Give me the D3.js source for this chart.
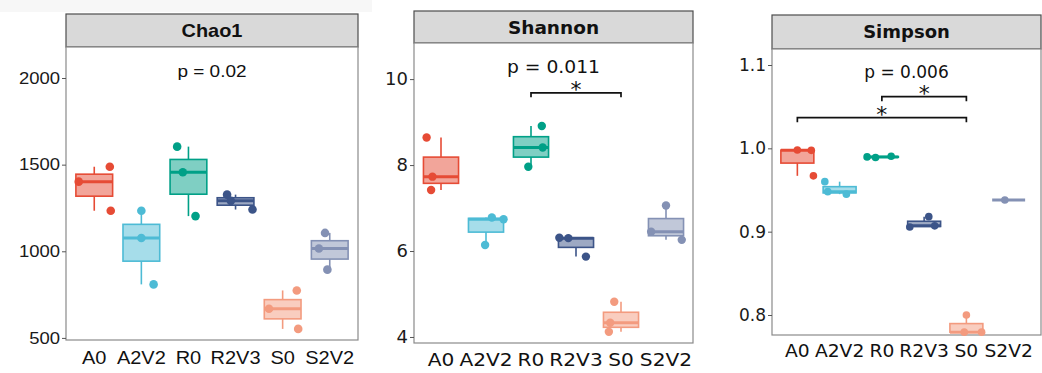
<!DOCTYPE html>
<html>
<head>
<meta charset="utf-8">
<script src="https://cdn.jsdelivr.net/npm/d3@7"></script>
<style>
  body { margin: 0; background: #fff; }
  svg { display: block; }
  .stretch { transform-box: fill-box; }
</style>
</head>
<body>
<script>
const groups = ["A0", "A2V2", "R0", "R2V3", "S0", "S2V2"];
const groupColors = ["#E64B35", "#4DBBD5", "#00A087", "#3C5488", "#F39B7F", "#8491B4"];

// three samples per group, with the jitter (in category steps) seen in the picture
const chao1Values = [
  [1402, 1488, 1234],
  [1234, 1077, 809],
  [1604, 1456, 1203],
  [1327, 1291, 1241],
  [774, 668, 552],
  [1106, 1016, 894],
];
const chao1Jitter = [
  [-0.33, 0.33, 0.35],
  [0.0, 0.0, 0.26],
  [-0.24, -0.12, 0.15],
  [-0.18, -0.1, 0.36],
  [0.3, -0.29, 0.33],
  [-0.1, -0.23, -0.05],
];
const chao1Ticks = [500, 1000, 1500, 2000];

const shannonValues = [
  [8.64, 7.73, 7.42],
  [6.78, 6.74, 6.14],
  [8.91, 8.41, 7.96],
  [6.31, 6.3, 5.87],
  [4.82, 4.33, 4.12],
  [7.06, 6.45, 6.26],
];
const shannonJitter = [
  [-0.32, -0.19, -0.22],
  [0.13, 0.39, -0.02],
  [0.24, 0.26, -0.06],
  [-0.37, -0.17, 0.22],
  [-0.15, -0.24, -0.27],
  [0.0, -0.33, 0.35],
];
const shannonTicks = [4, 6, 8, 10];

const simpsonValues = [
  [0.998, 0.9976, 0.967],
  [0.96, 0.948, 0.945],
  [0.9897, 0.989, 0.9905],
  [0.9056, 0.918, 0.907],
  [0.8, 0.7794, 0.7794],
  [0.938],
];
const simpsonJitter = [
  [0.0, 0.33, 0.38],
  [-0.35, -0.28, 0.16],
  [-0.35, -0.15, 0.22],
  [-0.34, 0.11, 0.25],
  [0.0, -0.05, 0.36],
  [-0.09],
];
const simpsonTicks = [0.8, 0.9, 1.0, 1.1];

const pLabels = ["p = 0.02", "p = 0.011", "p = 0.006"];
const pLabelY = [2006, 10.14, 1.084];

const shannonBrackets = [{ from: "R0", to: "S0", y: 9.68, label: "*" }];
const simpsonBrackets = [
  { from: "R0", to: "S0", y: 1.062, label: "*" },
  { from: "A0", to: "S0", y: 1.0368, label: "*" },
];

const width = 1042;
const height = 373;

const svg = d3.select("body").append("svg")
  .attr("width", width)
  .attr("height", height);

// faint strip at the top-left of the source image
svg.append("rect")
  .attr("x", 0).attr("y", 0).attr("width", 372).attr("height", 12)
  .attr("fill", "#f7f7f7");

const panels = [
  {
    title: "Chao1", values: chao1Values, jitter: chao1Jitter, ticks: chao1Ticks,
    fmt: d3.format("d"), domain: [488, 2179], p: pLabels[0], pY: pLabelY[0], brackets: [],
    left: 66, right: 358, xEnd: 358, headerTop: 14, top: 47, bottom: 340,
    font: "'Liberation Sans', Arial, sans-serif",
    titleSize: 19, tickSize: 16.5, labelSize: 18.5, pSize: 16.5,
    sxTitle: 1.05, sxTick: 1.12, sxLabel: 1.08, sxP: 1.15,
    pointR: 4.3,
  },
  {
    title: "Shannon", values: shannonValues, jitter: shannonJitter, ticks: shannonTicks,
    fmt: d3.format("d"), domain: [3.86, 10.84], p: pLabels[1], pY: pLabelY[1], brackets: shannonBrackets,
    left: 414, right: 693, xEnd: 693, headerTop: 11, top: 43, bottom: 343,
    font: "'DejaVu Sans', sans-serif",
    titleSize: 18.5, tickSize: 18, labelSize: 18, pSize: 18,
    sxTitle: 1.0, sxTick: 1.0, sxLabel: 1.12, sxP: 1.04,
    pointR: 4.2,
  },
  {
    title: "Simpson", values: simpsonValues, jitter: simpsonJitter, ticks: simpsonTicks,
    fmt: d3.format(".1f"), domain: [0.776, 1.1192], p: pLabels[2], pY: pLabelY[2], brackets: simpsonBrackets,
    left: 772, right: 1041, xEnd: 1034, headerTop: 15, top: 49, bottom: 335,
    font: "'DejaVu Sans', sans-serif",
    titleSize: 18, tickSize: 17, labelSize: 17, pSize: 17,
    sxTitle: 1.0, sxTick: 1.0, sxLabel: 1.1, sxP: 1.0,
    pointR: 3.8,
  },
];

function stretch(sel, sx, origin) {
  sel.classed("stretch", true)
    .style("transform-origin", origin)
    .style("transform", `scaleX(${sx})`);
}

function drawPanel(p) {
  const x = d3.scalePoint().domain(groups).range([p.left, p.xEnd]).padding(0.6);
  const y = d3.scaleLinear().domain(p.domain).range([p.bottom, p.top]);
  const step = x.step();
  const boxW = step * 0.78;

  const g = svg.append("g").attr("font-family", p.font);

  // strip header
  g.append("rect")
    .attr("x", p.left).attr("y", p.headerTop)
    .attr("width", p.right - p.left).attr("height", p.top - p.headerTop)
    .attr("fill", "#d9d9d9").attr("stroke", "#4d4d4d").attr("stroke-width", 1.2);
  g.append("text")
    .attr("x", (p.left + p.right) / 2).attr("y", (p.headerTop + p.top) / 2)
    .attr("dy", "0.36em").attr("text-anchor", "middle")
    .attr("font-size", p.titleSize).attr("font-weight", "bold").attr("fill", "#111")
    .text(p.title)
    .call(stretch, p.sxTitle, "center");

  // panel border
  g.append("rect")
    .attr("x", p.left).attr("y", p.top)
    .attr("width", p.right - p.left).attr("height", p.bottom - p.top)
    .attr("fill", "#fff").attr("stroke", "#8a8a8a").attr("stroke-width", 1.2);

  // y axis
  const axis = d3.axisLeft(y).tickValues(p.ticks).tickFormat(p.fmt).tickSize(4).tickPadding(2);
  const ag = g.append("g").attr("transform", `translate(${p.left},0)`).call(axis);
  ag.select(".domain").remove();
  ag.selectAll(".tick line").attr("stroke", "#555");
  ag.selectAll(".tick text")
    .attr("font-size", p.tickSize).attr("font-family", p.font).attr("fill", "#1a1a1a")
    .call(stretch, p.sxTick, "right center");

  // x labels
  g.append("g").selectAll("text").data(groups).join("text")
    .attr("x", (d) => x(d)).attr("y", p.bottom + 6)
    .attr("dy", "0.95em").attr("text-anchor", "middle")
    .attr("font-size", p.labelSize).attr("fill", "#111")
    .text((d) => d)
    .each(function () { stretch(d3.select(this), p.sxLabel, "center"); });

  // boxes
  groups.forEach((grp, i) => {
    const color = groupColors[i];
    const vals = p.values[i].slice().sort(d3.ascending);
    const q1 = d3.quantile(vals, 0.25);
    const med = d3.quantile(vals, 0.5);
    const q3 = d3.quantile(vals, 0.75);
    const lo = d3.min(vals);
    const hi = d3.max(vals);
    const cx = x(grp);
    const bg = g.append("g");

    bg.append("line")
      .attr("x1", cx).attr("x2", cx).attr("y1", y(hi)).attr("y2", y(q3))
      .attr("stroke", color).attr("stroke-width", 1.6);
    bg.append("line")
      .attr("x1", cx).attr("x2", cx).attr("y1", y(q1)).attr("y2", y(lo))
      .attr("stroke", color).attr("stroke-width", 1.6);
    bg.append("rect")
      .attr("x", cx - boxW / 2).attr("y", y(q3))
      .attr("width", boxW).attr("height", Math.max(0, y(q1) - y(q3)))
      .attr("fill", color).attr("fill-opacity", 0.5)
      .attr("stroke", color).attr("stroke-width", 1.6);
    bg.append("line")
      .attr("x1", cx - boxW / 2).attr("x2", cx + boxW / 2)
      .attr("y1", y(med)).attr("y2", y(med))
      .attr("stroke", color).attr("stroke-width", 3);

    bg.selectAll("circle").data(p.values[i]).join("circle")
      .attr("cx", (d, j) => cx + p.jitter[i][j] * step)
      .attr("cy", (d) => y(d))
      .attr("r", p.pointR)
      .attr("fill", color);
  });

  // p value
  g.append("text")
    .attr("x", (p.left + p.right) / 2).attr("y", y(p.pY))
    .attr("text-anchor", "middle").attr("font-size", p.pSize).attr("fill", "#111")
    .text(p.p)
    .call(stretch, p.sxP, "center");

  // significance brackets
  p.brackets.forEach((b) => {
    const by = y(b.y);
    const x1 = x(b.from);
    const x2 = x(b.to);
    g.append("path")
      .attr("d", `M${x1},${by + 4.5}V${by}H${x2}V${by + 4.5}`)
      .attr("fill", "none").attr("stroke", "#111").attr("stroke-width", 1.7);
    g.append("text")
      .attr("x", (x1 + x2) / 2).attr("y", by + 4)
      .attr("text-anchor", "middle").attr("font-size", 22).attr("fill", "#111")
      .text(b.label);
  });
}

panels.forEach(drawPanel);
</script>
</body>
</html>
